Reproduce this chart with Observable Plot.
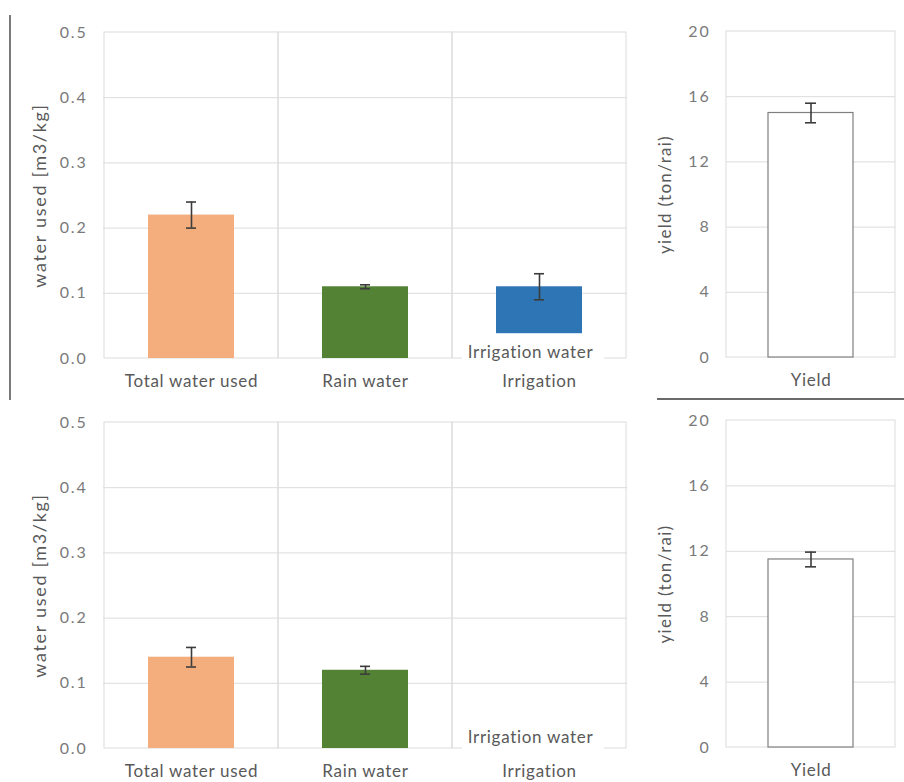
<!DOCTYPE html>
<html><head><meta charset="utf-8">
<script src="https://cdn.jsdelivr.net/npm/d3@7"></script>
<script src="https://cdn.jsdelivr.net/npm/@observablehq/plot@0.6"></script>
<style>
body{margin:0;background:#fff;}
#root{position:relative;width:904px;height:782px;overflow:hidden;font-family:Lato,sans-serif;background:#fff;}
.panel{position:absolute;}
.vline{position:absolute;left:9px;top:15px;width:2px;height:385px;background:#7a7a7a;z-index:5;}
.hline{position:absolute;left:657px;top:398px;width:247px;height:2px;background:#6a6a6a;z-index:5;}
</style></head><body><div id="root"><div class="vline"></div><div class="hline"></div></div>
<script>
const categories = ["Total water used", "Rain water", "Irrigation"];
const topWater = [0.22, 0.11, 0.11];
const topWaterErr = [0.02, 0.003, 0.02];
const bottomWater = [0.14, 0.12, 0];
const bottomWaterErr = [0.015, 0.006, 0];
const barColors = ["#F4AE7E", "#548235", "#2E75B6"];
const waterTicks = [0, 0.1, 0.2, 0.3, 0.4, 0.5];
const waterLabel = "water used [m3/kg]";

const yieldCategory = ["Yield"];
const topYield = [15];
const topYieldErr = [0.6];
const bottomYield = [11.5];
const bottomYieldErr = [0.45];
const yieldTicks = [0, 4, 8, 12, 16, 20];
const yieldLabel = "yield (ton/rai)";

const overlayLabel = ["Irrigation water"];
const overlayCategory = "Irrigation";

const FONT = "Lato, sans-serif";
const TXT = "#595959";
const TICK = "#7a7a7a";
const GRID = "#dcdcdc";
const ERR = "#3c3c3c";

function spacing(svg, selector, value) {
  d3.select(svg).selectAll(selector).style("letter-spacing", value);
}
function spacingByText(svg, content, value) {
  d3.select(svg).selectAll("text").filter(function () { return this.textContent === content; }).style("letter-spacing", value);
}

function waterChart(values, errs, opts) {
  const data = categories.map((c, i) => ({cat: c, v: values[i], e: errs[i], color: barColors[i]}));
  const svg = Plot.plot({
    width: 640, height: opts.height,
    marginLeft: 103, marginRight: 13, marginTop: opts.marginTop, marginBottom: opts.marginBottom,
    style: {fontFamily: FONT, background: "transparent", color: TXT},
    x: {type: "band", domain: categories, padding: 0, label: null},
    y: {domain: [0, 0.5], label: null},
    color: {type: "identity"},
    marks: [
      Plot.gridY({ticks: waterTicks.slice(1, -1), stroke: GRID, strokeOpacity: 1}),
      Plot.barY(categories, {x: d => d, y1: 0, y2: 0.5, fill: "none", stroke: GRID}),
      Plot.barY(data.filter(d => d.v > 0), {x: "cat", y: "v", fill: "color", insetLeft: 44, insetRight: 44}),
      Plot.ruleX(data.filter(d => d.e > 0), {x: "cat", y1: d => d.v - d.e, y2: d => d.v + d.e, stroke: ERR, strokeWidth: 1.6}),
      Plot.tickY(data.filter(d => d.e > 0), {x: "cat", y: d => d.v + d.e, stroke: ERR, strokeWidth: 1.6, insetLeft: 82, insetRight: 82}),
      Plot.tickY(data.filter(d => d.e > 0), {x: "cat", y: d => d.v - d.e, stroke: ERR, strokeWidth: 1.6, insetLeft: 82, insetRight: 82}),
      Plot.barY(overlayLabel, {x: () => overlayCategory, y1: -0.005, y2: 0.038, fill: "white", insetLeft: 10, insetRight: 22}),
      Plot.text(overlayLabel, {x: () => overlayCategory, y: () => opts.overlayY, text: d => d, dx: -9, fill: TXT, fontSize: 17}),
      Plot.axisY({ticks: waterTicks, tickSize: 0, tickPadding: 16, tickFormat: d3.format(".1f"), fontSize: 16, color: TICK, label: null}),
      Plot.axisX({tickSize: 0, tickPadding: 16, fontSize: 17, color: TXT, label: null}),
      Plot.text([waterLabel], {frameAnchor: "left", textAnchor: "middle", dx: -63, rotate: -90, text: d => d, fill: TXT, fontSize: 18})
    ]
  });
  spacing(svg, 'g[aria-label="x-axis tick label"] text', "0.7px");
  spacing(svg, 'g[aria-label="y-axis tick label"] text', "1.8px");
  spacingByText(svg, overlayLabel[0], "0.7px");
  spacingByText(svg, waterLabel, "1.7px");
  return svg;
}

function yieldChart(values, errs, opts) {
  const data = yieldCategory.map((c, i) => ({cat: c, v: values[i], e: errs[i]}));
  const svg = Plot.plot({
    width: 264, height: opts.height,
    marginLeft: 86, marginRight: 9, marginTop: opts.marginTop, marginBottom: opts.marginBottom,
    style: {fontFamily: FONT, background: "transparent", color: TXT},
    x: {type: "band", domain: yieldCategory, padding: 0, label: null},
    y: {domain: [0, 20], label: null},
    marks: [
      Plot.gridY({ticks: yieldTicks.slice(1, -1), stroke: GRID, strokeOpacity: 1}),
      Plot.barY(yieldCategory, {x: d => d, y1: 0, y2: 20, fill: "none", stroke: GRID}),
      Plot.barY(data, {x: "cat", y: "v", fill: "white", stroke: "#7f7f7f", strokeWidth: 1.2, insetLeft: 42, insetRight: 42}),
      Plot.ruleX(data, {x: "cat", y1: d => d.v - d.e, y2: d => d.v + d.e, stroke: ERR, strokeWidth: 1.6}),
      Plot.tickY(data, {x: "cat", y: d => d.v + d.e, stroke: ERR, strokeWidth: 1.6, insetLeft: 79, insetRight: 79}),
      Plot.tickY(data, {x: "cat", y: d => d.v - d.e, stroke: ERR, strokeWidth: 1.6, insetLeft: 79, insetRight: 79}),
      Plot.axisY({ticks: yieldTicks, tickSize: 0, tickPadding: 16, fontSize: 16, color: TICK, label: null}),
      Plot.axisX({tickSize: 0, tickPadding: 16, fontSize: 17, color: TXT, label: null}),
      Plot.text([yieldLabel], {frameAnchor: "left", textAnchor: "middle", dx: -61, rotate: -90, text: d => d, fill: TXT, fontSize: 17})
    ]
  });
  spacing(svg, 'g[aria-label="x-axis tick label"] text', "0.7px");
  spacing(svg, 'g[aria-label="y-axis tick label"] text', "1.8px");
  spacingByText(svg, yieldLabel, "1.3px");
  return svg;
}

const root = document.getElementById("root");
function place(el, left, top) {
  el.classList.add("panel");
  el.style.left = left + "px";
  el.style.top = top + "px";
  root.appendChild(el);
}
place(waterChart(topWater, topWaterErr, {height: 395, marginTop: 32, marginBottom: 37, overlayY: 0.009}), 0, 0);
place(yieldChart(topYield, topYieldErr, {height: 395, marginTop: 31, marginBottom: 38}), 640, 0);
place(waterChart(bottomWater, bottomWaterErr, {height: 387, marginTop: 27, marginBottom: 34, overlayY: 0.017}), 0, 395);
place(yieldChart(bottomYield, bottomYieldErr, {height: 387, marginTop: 25, marginBottom: 35}), 640, 395);
</script></body></html>
